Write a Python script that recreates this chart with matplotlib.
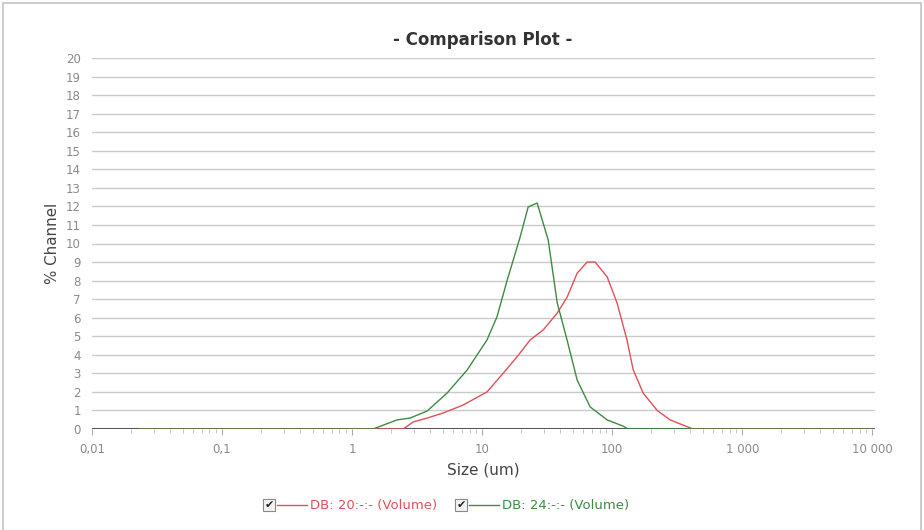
import matplotlib
matplotlib.use("Agg")
import matplotlib.pyplot as plt
from matplotlib.patches import Rectangle
from matplotlib.lines import Line2D

# ── data ─────────────────────────────────────────────────────────────────────
green_size = [0.023, 1.45, 2.22, 2.79, 3.78, 5.38, 7.67, 10.9, 13.0, 15.6, 19.6,
              22.6, 26.5, 32.2, 37.8, 45.0, 53.8, 67.7, 91.5, 122, 132, 10000]
green_pct = [0, 0, 0.49, 0.59, 0.97, 1.94, 3.18, 4.8, 6.04, 8.03, 10.35,
             11.97, 12.18, 10.2, 6.8, 4.8, 2.64, 1.19, 0.49, 0.15, 0, 0]

red_size = [0.023, 2.47, 2.95, 3.78, 5.0, 7.14, 10.9, 14.5, 18.6, 23.4, 29.5,
            37.8, 45.0, 53.8, 64.2, 74.0, 91.5, 109, 130, 145, 173, 222, 279,
            334, 420, 10000]
red_pct = [0, 0, 0.38, 0.59, 0.86, 1.29, 2.0, 3.0, 3.9, 4.8, 5.34,
           6.25, 7.1, 8.4, 9.0, 9.0, 8.2, 6.8, 4.8, 3.2, 1.94, 1.0, 0.49,
           0.27, 0, 0]

x_ticks = [0.01, 0.1, 1, 10, 100, 1000, 10000]
x_labels = ["0,01", "0,1", "1", "10", "100", "1 000", "10 000"]
y_ticks = list(range(0, 21))

series_names = ["DB: 20:-:- (Volume)", "DB: 24:-:- (Volume)"]
RED = "#e2505a"
GREEN = "#3e8a44"

# ── figure ───────────────────────────────────────────────────────────────────
W, H = 924, 530
fig = plt.figure(figsize=(W / 100, H / 100), dpi=100)
fig.patch.set_facecolor("white")

# outer frame
fig.patches.append(Rectangle((3 / W, -0.01), (W - 6) / W, 1 - 3 / H + 0.01,
                             transform=fig.transFigure, fill=False,
                             edgecolor="#c4c4c4", linewidth=1.2))

ax = fig.add_axes([92 / W, (H - 429) / H, (875 - 92) / W, 371 / H])
ax.set_xscale("log")
ax.set_xlim(0.01, 10500)
ax.set_ylim(0, 20)

for s in ax.spines.values():
    s.set_visible(False)

# horizontal grid
for v in y_ticks[1:]:
    ax.axhline(v, color="#cacaca", linewidth=1.0, zorder=1)
ax.axhline(0, color="#555555", linewidth=2.2, zorder=2)

ax.plot(red_size, red_pct, color=RED, linewidth=1.0, zorder=3)
ax.plot(green_size, green_pct, color=GREEN, linewidth=1.0, zorder=4)

ax.set_xticks(x_ticks)
ax.set_xticklabels(x_labels)
ax.set_yticks(y_ticks)
ax.tick_params(axis="x", which="major", length=4, color="#aaaaaa",
               labelsize=8.5, labelcolor="#8a8a8a", pad=6)
ax.tick_params(axis="x", which="minor", length=3, color="#bbbbbb")
ax.tick_params(axis="y", length=0, labelsize=8.5, labelcolor="#8a8a8a", pad=8)

ax.set_xlabel("Size (um)", fontsize=11, color="#444444", labelpad=5)
ax.set_ylabel("% Channel", fontsize=10.8, color="#444444", labelpad=4)

fig.text(483 / W, (H - 40) / H, "- Comparison Plot -", ha="center", va="center",
         fontsize=12, fontweight="bold", color="#333333")

# legend with check boxes
ly = (H - 505) / H
for cx, color, name in [(269, RED, series_names[0]), (461, GREEN, series_names[1])]:
    fig.patches.append(Rectangle(((cx - 6) / W, ly - 6 / H), 12 / W, 12 / H,
                                 transform=fig.transFigure, fill=True,
                                 facecolor="#f4f4f4", edgecolor="#888888",
                                 linewidth=0.8))
    fig.text(cx / W, ly, "\u2714", ha="center", va="center", fontsize=8,
             color="#222222")
    fig.add_artist(Line2D([(cx + 8) / W, (cx + 38) / W], [ly, ly],
                          transform=fig.transFigure, color=color, linewidth=1.0))
    fig.text((cx + 41) / W, ly, name, ha="left", va="center", fontsize=9.5,
             color=color)

fig.savefig("out.png", dpi=100)
